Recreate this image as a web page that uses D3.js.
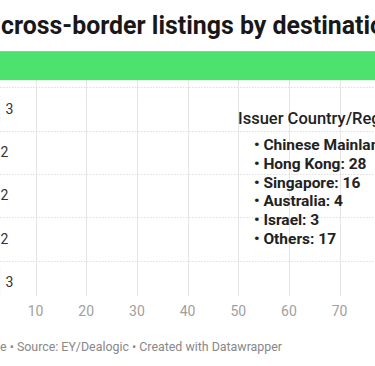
<!DOCTYPE html>
<html>
<head>
<meta charset="utf-8">
<script src="https://cdn.jsdelivr.net/npm/d3@7"></script>
<style>
  body { margin: 0; background: #fff; overflow: hidden; }
  text { font-family: Roboto, "Noto Sans", sans-serif; }
</style>
</head>
<body>
<script>
// chart data (destination markets, listing counts)
var categories = ["US", "UK", "Switzerland", "Singapore", "Germany", "Others"];
var values = [107, 3, 2, 2, 2, 3];
var tickValues = [0, 10, 20, 30, 40, 50, 60, 70, 80, 90, 100];

// annotation: issuers of the US listings
var issuers = ["Chinese Mainland", "Hong Kong", "Singapore", "Australia", "Israel", "Others"];
var issuerCounts = [39, 28, 16, 4, 3, 17];

var titleText = "cross-border listings by destination market";
var footerPrefix = "Chart: Capital Exchange";
var footerText = footerPrefix + " • Source: EY/Dealogic • Created with Datawrapper";

var width = 375, height = 366;

var svg = d3.select("body").append("svg")
    .attr("width", width)
    .attr("height", height);

// x scale - zero sits just off the left edge
var x = d3.scaleLinear().domain([0, 100]).range([-15.1, 491.6]);

// rows
var y = d3.scaleBand()
    .domain(categories)
    .range([44, 303.8])
    .paddingInner(0.33)
    .paddingOuter(0.165);

var gridTop = y(categories[0]);
var gridBottom = 296;

// title
svg.append("text")
    .attr("x", 1)
    .attr("y", 34)
    .style("font-size", "24.9px")
    .style("font-weight", 700)
    .style("fill", "#181818")
    .text(titleText);

// vertical gridlines
svg.selectAll(".grid")
    .data(tickValues)
    .enter().append("line")
    .attr("class", "grid")
    .attr("x1", function(d) { return Math.round(x(d)) + 0.5; })
    .attr("x2", function(d) { return Math.round(x(d)) + 0.5; })
    .attr("y1", gridTop)
    .attr("y2", gridBottom)
    .style("stroke", "#e5e5e5")
    .style("stroke-width", 1);

// dotted row separators
var step = y.step();
svg.selectAll(".sep")
    .data(categories.slice(1))
    .enter().append("line")
    .attr("class", "sep")
    .attr("x1", 0)
    .attr("x2", width)
    .attr("y1", function(d) { return Math.round(y(d) - (step - y.bandwidth()) / 2) + 0.5; })
    .attr("y2", function(d) { return Math.round(y(d) - (step - y.bandwidth()) / 2) + 0.5; })
    .style("stroke", "#dedede")
    .style("stroke-dasharray", "1.5,1.5");

// bars
svg.selectAll(".bar")
    .data(categories)
    .enter().append("rect")
    .attr("class", "bar")
    .attr("x", x(0))
    .attr("y", function(d) { return y(d); })
    .attr("width", function(d, i) { return x(values[i]) - x(0); })
    .attr("height", y.bandwidth())
    .style("fill", function(d, i) { return i === 0 ? "#4de16e" : "#c8c8c8"; });

// category labels (sit off to the left)
svg.selectAll(".cat")
    .data(categories)
    .enter().append("text")
    .attr("class", "cat")
    .attr("x", x(0) - 8)
    .attr("y", function(d) { return y(d) + y.bandwidth() / 2; })
    .attr("dy", "0.35em")
    .attr("text-anchor", "end")
    .style("font-size", "14px")
    .style("fill", "#333")
    .text(function(d) { return d; });

// value labels
svg.selectAll(".val")
    .data(categories)
    .enter().append("text")
    .attr("class", "val")
    .attr("x", function(d, i) { return x(values[i]) + 5.5; })
    .attr("y", function(d) { return y(d) + y.bandwidth() / 2; })
    .attr("dy", "0.35em")
    .style("font-size", "14px")
    .style("fill", "#333")
    .text(function(d, i) { return values[i]; });

// x axis tick labels
svg.selectAll(".tick-label")
    .data(tickValues)
    .enter().append("text")
    .attr("class", "tick-label")
    .attr("x", function(d) { return x(d); })
    .attr("y", 316)
    .attr("text-anchor", "middle")
    .style("font-size", "14px")
    .style("fill", "#a0a0a0")
    .text(function(d) { return d; });

// annotation
var note = svg.append("g");
note.append("text")
    .attr("x", 238)
    .attr("y", 123.5)
    .style("font-size", "16.5px")
    .style("font-weight", 500)
    .style("fill", "#222")
    .text("Issuer Country/Region");

note.selectAll(".item")
    .data(issuers)
    .enter().append("text")
    .attr("class", "item")
    .attr("x", 254)
    .attr("y", function(d, i) { return 150 + i * 18.8; })
    .style("font-size", "15.5px")
    .style("font-weight", 700)
    .style("fill", "#222")
    .text(function(d, i) { return "• " + d + ": " + issuerCounts[i]; });

// footer, shifted so the prefix runs off the left edge
var footer = svg.append("text")
    .attr("y", 351)
    .style("font-size", "12.4px")
    .style("fill", "#888")
    .text(footerText);
var pre = footer.node().getSubStringLength(0, footerPrefix.length - 1);
footer.attr("x", -pre);
</script>
</body>
</html>
